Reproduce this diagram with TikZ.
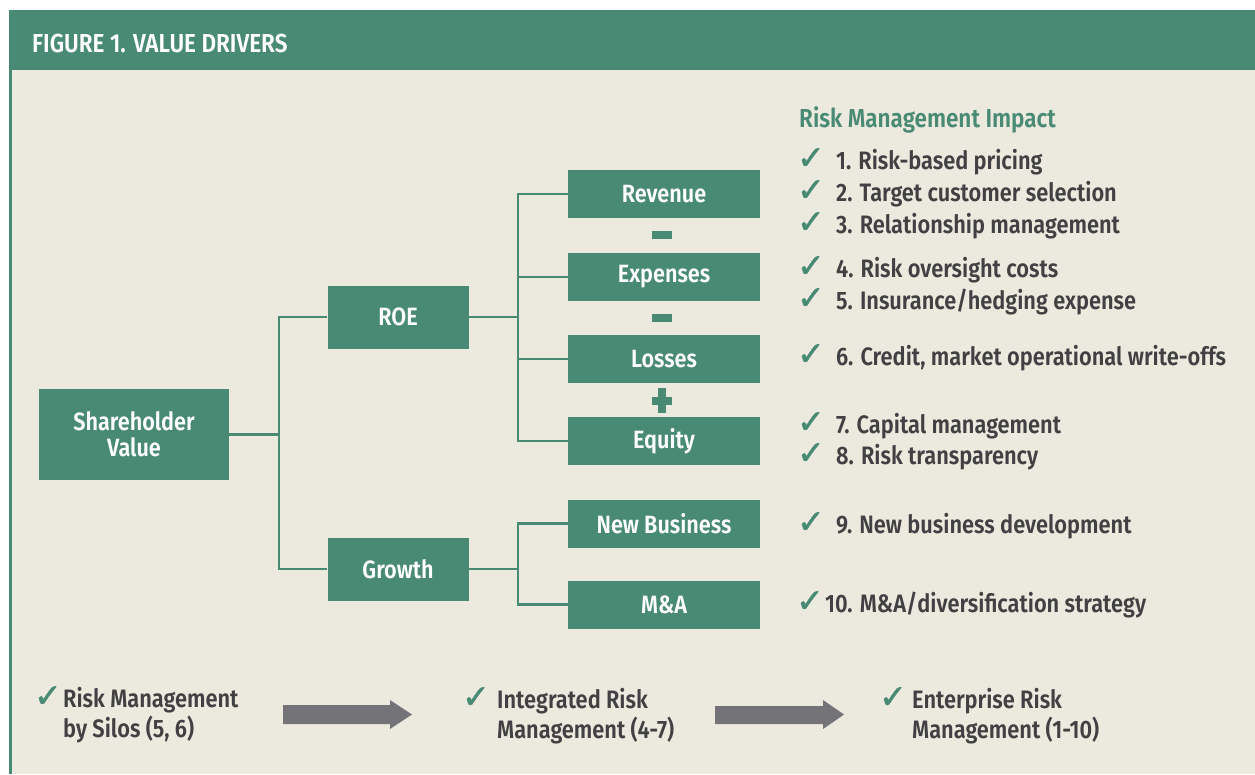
\documentclass[tikz,border=0pt]{standalone}
\usepackage{fontspec}
\setmainfont{Fira Sans}[FakeStretch=0.865, BoldFont={Fira Sans SemiBold}]
\newfontfamily\chkfont{DejaVu Sans}[FakeBold=1.5]
\definecolor{fgreen}{HTML}{488A73}
\definecolor{bgbeige}{HTML}{ECE9DF}
\definecolor{tgray}{HTML}{414042}
\definecolor{agray}{HTML}{737378}
\begin{document}
\begin{tikzpicture}[x=1pt,y=-1pt,
  gbox/.style={rectangle, fill=fgreen, text=white, inner sep=0pt, align=center,
    font=\bfseries\fontsize{25}{27}\selectfont},
  smallbox/.style={gbox, minimum width=192pt, minimum height=48pt},
  midbox/.style={gbox, minimum width=141pt, minimum height=63pt},
  conn/.style={draw=fgreen, line width=2.4pt},
  item/.style={anchor=base west, inner sep=0pt, text=tgray,
    font=\bfseries\fontsize{25.2}{30}\selectfont},
  chk/.style={anchor=base east, inner sep=0pt, text=fgreen,
    font=\chkfont\fontsize{33}{30}\selectfont},
  sign/.style={fill=fgreen},
  bigarrow/.style={fill=agray}
]
\useasboundingbox (0,0) rectangle (1255,774);
\fill[white] (0,0) rectangle (1255,774);
\fill[bgbeige] (9,70) rectangle (1255,774);
\fill[fgreen] (9,10) rectangle (1255,70);
\fill[fgreen] (9,70) rectangle (12,774);
\node[anchor=base west, inner sep=0pt, text=white,
  font=\bfseries\fontsize{26}{30}\selectfont] (title) at (32,52) {FIGURE 1. VALUE DRIVERS};

% boxes
\node[gbox, minimum width=190pt, minimum height=91pt] (sv) at (134,434.5) {Shareholder\\[-1pt]Value};
\node[midbox] (roe) at (398,317) {ROE};
\node[midbox] (gro) at (398,569) {Growth};
\node[smallbox] (rev) at (664,194) {Revenue};
\node[smallbox] (exp) at (664,277) {Expenses};
\node[smallbox] (los) at (664,359) {Losses};
\node[smallbox] (equ) at (664,441) {Equity};
\node[smallbox] (nb) at (664,523.5) {New Business};
\node[smallbox] (ma) at (664,604.5) {M\&A};

% connectors
\coordinate (b1) at (279,0);
\coordinate (b2) at (518,0);
\draw[conn] (sv.east) -- (b1 |- sv.east);
\draw[conn] (roe.west) -- (b1 |- roe.west) -- (b1 |- gro.west) -- (gro.west);
\draw[conn] (roe.east) -- (b2 |- roe.east);
\draw[conn] (rev.west) -- (b2 |- rev.west) -- (b2 |- equ.west) -- (equ.west);
\draw[conn] (exp.west) -- (b2 |- exp.west);
\draw[conn] (los.west) -- (b2 |- los.west);
\draw[conn] (gro.east) -- (b2 |- gro.east);
\draw[conn] (nb.west) -- (b2 |- nb.west) -- (b2 |- ma.west) -- (ma.west);

% signs
\fill[sign] (652,231) rectangle (672,239);
\fill[sign] (652,314) rectangle (672,322);
\fill[sign] (652,396.5) rectangle (672,404.5);
\fill[sign] (658,388) rectangle (666,413);

% right list
\node[anchor=base west, inner sep=0pt, text=fgreen,
  font=\bfseries\fontsize{26}{30}\selectfont] (rmi) at (799,127) {Risk Management Impact};
\foreach \y/\t/\n in {169/1. Risk-based pricing/1, 201/2. Target customer selection/2,
  233/3. Relationship management/3, 277/4. Risk oversight costs/4,
  309/5. Insurance\slash hedging expense/5, 365/{6. Credit, market operational write-offs}/6,
  433/7. Capital management/7, 464/8. Risk transparency/8, 533/9. New business development/9}
{
  \node[chk] (c\n) at (825,\y) {✓};
  \node[item] (i\n) at (836,\y) {\t};
}
\node[chk] (c10) at (824,612) {✓};
\node[item] (i10) at (825,612) {10. M\&A\slash diversification strategy};

% bottom row
\node[chk] (bc1) at (62,707) {✓};
\node[item] (bt1) at (63,707) {Risk Management};
\node[item] (bt1b) at (63,737) {by Silos (5, 6)};
\node[chk] (bc2) at (490,708) {✓};
\node[item] (bt2) at (497,708) {Integrated Risk};
\node[item] (bt2b) at (497,738) {Management (4-7)};
\node[chk] (bc3) at (907,708) {✓};
\node[item] (bt3) at (912,708) {Enterprise Risk};
\node[item] (bt3b) at (912,738) {Management (1-10)};

\fill[bigarrow] (283,705) -- (390,705) -- (390,700) -- (412,714.5) -- (390,729) -- (390,724) -- (283,724) -- cycle;
\fill[bigarrow] (715,706) -- (823,706) -- (823,700) -- (844,714.5) -- (823,729) -- (823,724) -- (715,724) -- cycle;
\end{tikzpicture}
\end{document}
